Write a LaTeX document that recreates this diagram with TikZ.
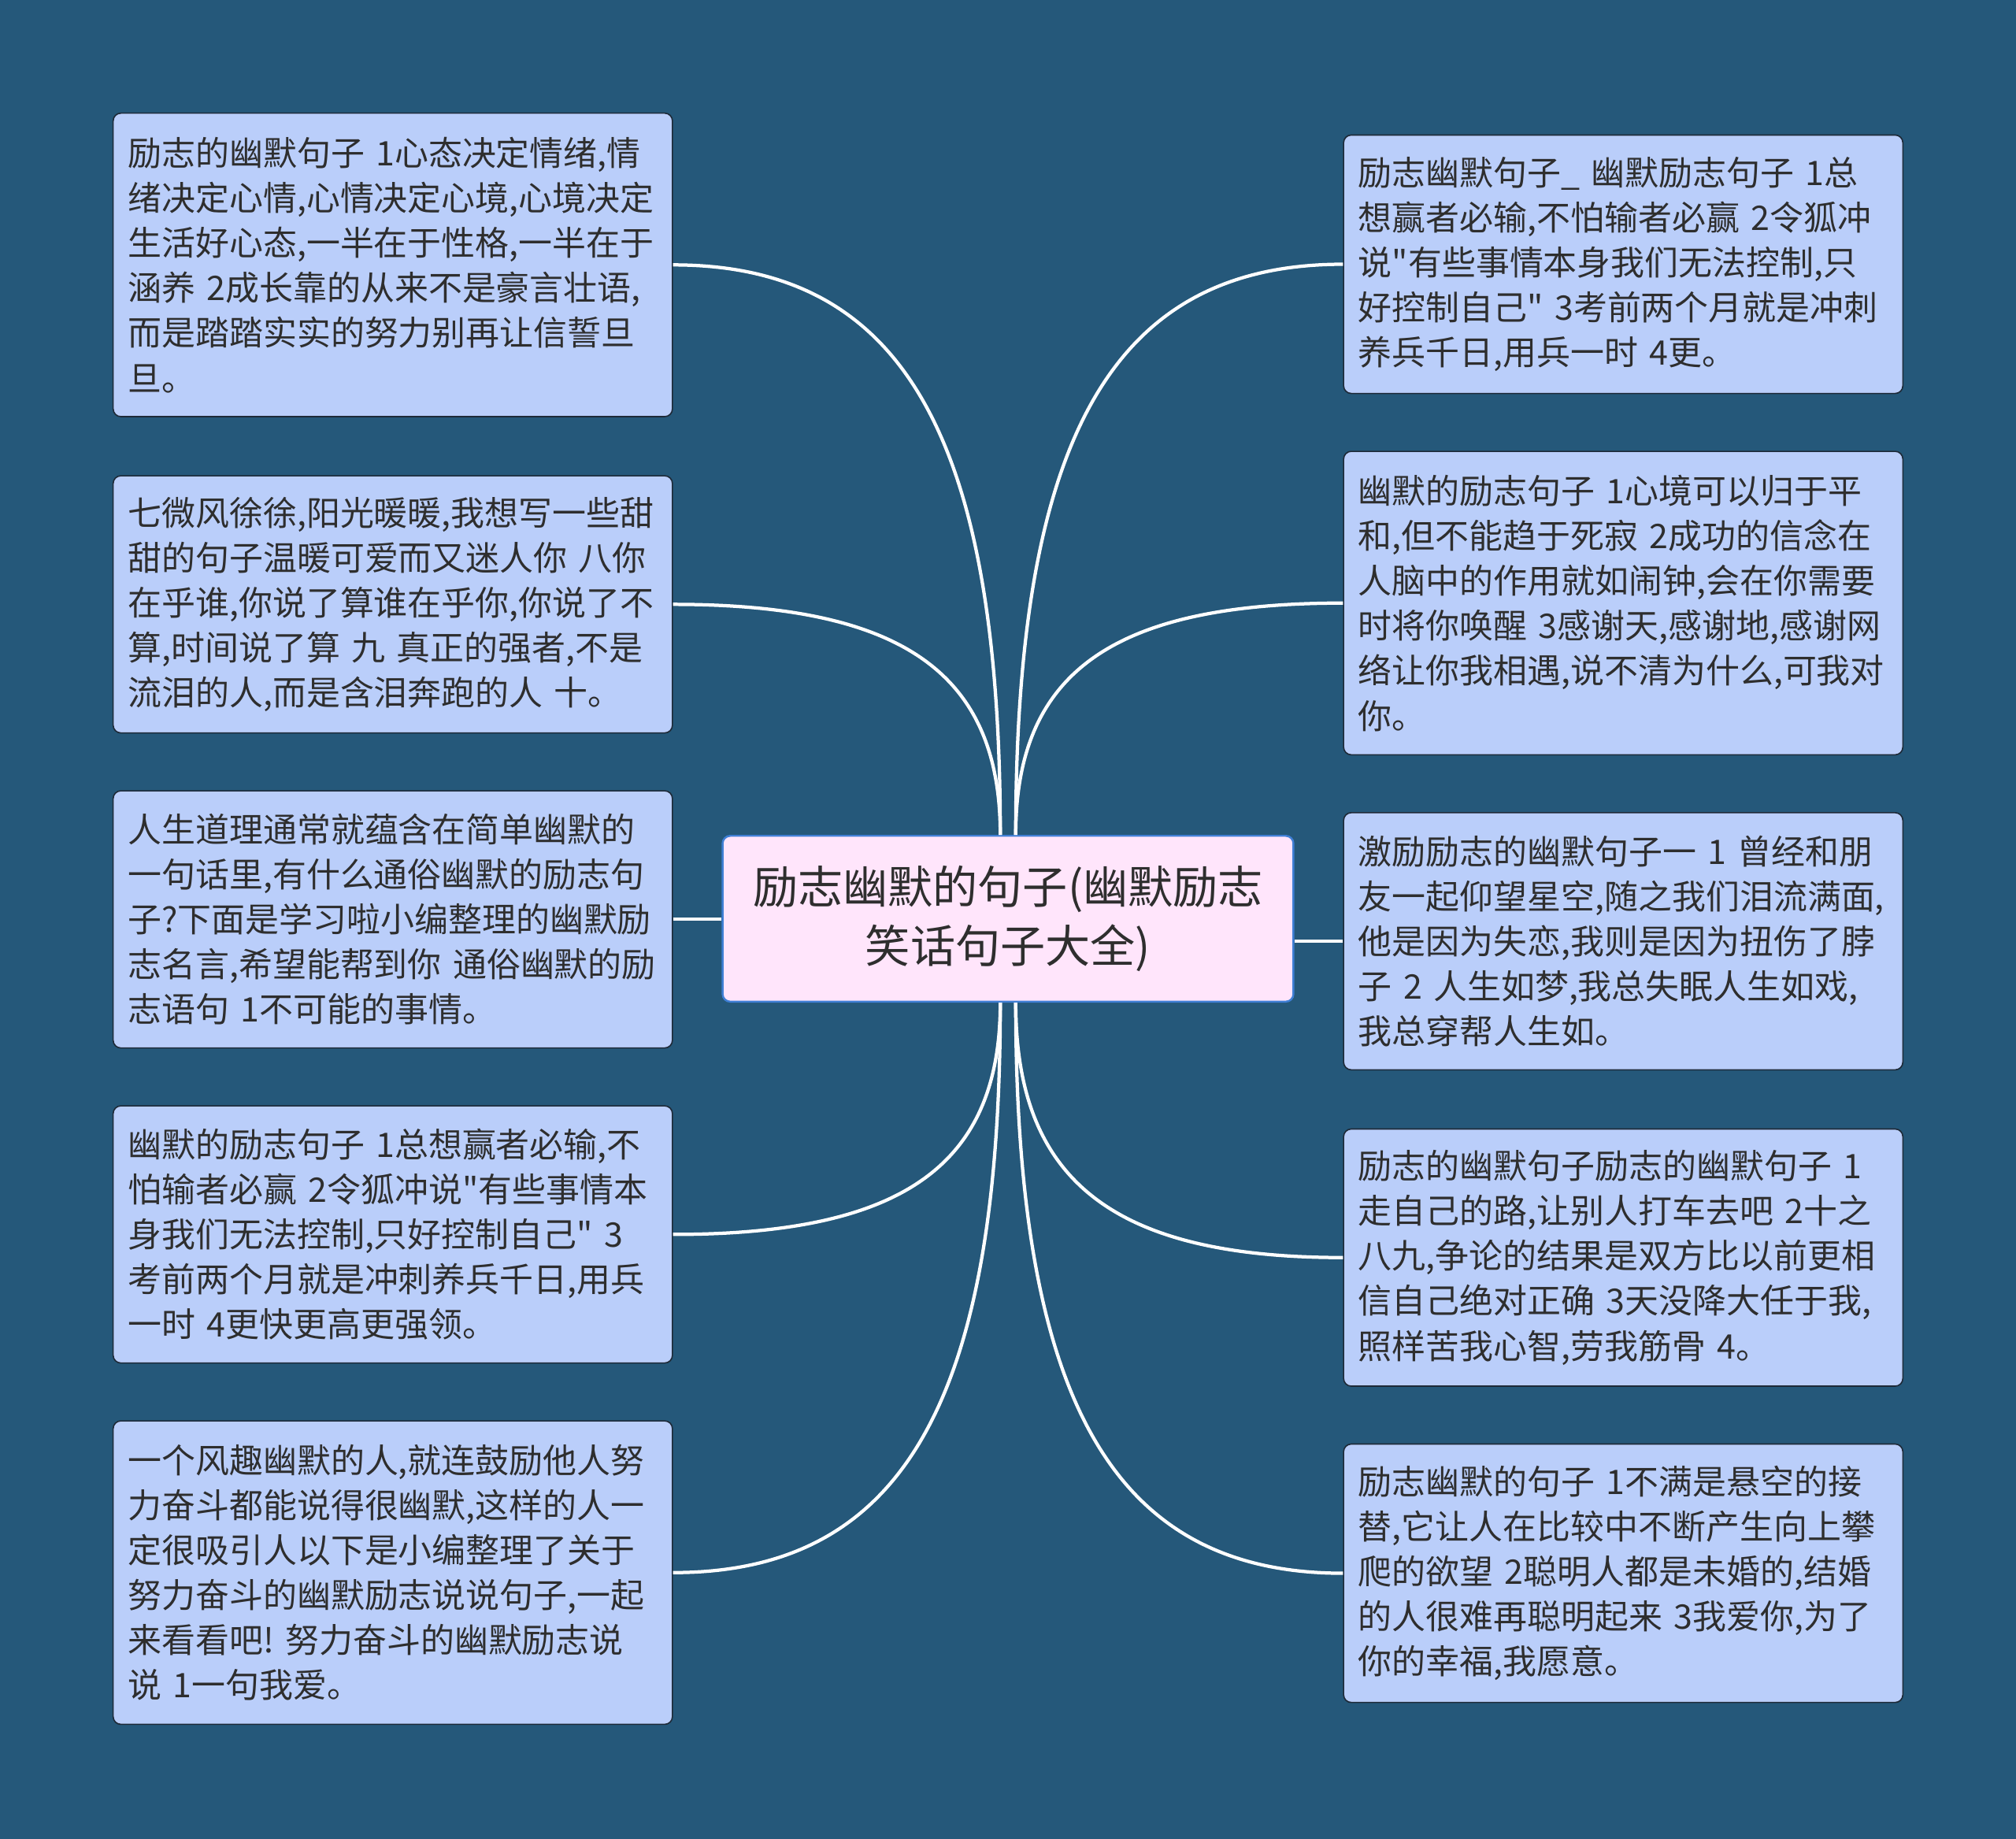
\documentclass[tikz,border=0pt]{standalone}
\usepackage{fontspec}
\setmainfont{Noto Sans CJK SC}
\newfontfamily\qfont{Noto Sans CJK SC}
\newcommand\dq{{\qfont"}}
\definecolor{bg}{HTML}{25587A}
\definecolor{leaffill}{HTML}{BACEFA}
\definecolor{leafborder}{HTML}{1E2A38}
\definecolor{rootfill}{HTML}{FFE5FB}
\definecolor{rootborder}{HTML}{3F7FD5}
\definecolor{txt}{HTML}{2E2E2E}
\tikzset{
  leaf/.style={draw=leafborder, line width=1pt, fill=leaffill, rounded corners=6pt,
    text width=412pt, inner xsep=11.5pt, inner ysep=0pt, align=left,
    font=\fontsize{26.3}{35}\selectfont, text=txt},
  root/.style={draw=rootborder, line width=1.5pt, fill=rootfill, rounded corners=6pt,
    minimum width=444pt, minimum height=129pt, align=center, inner sep=0pt,
    font=\fontsize{35}{46}\selectfont, text=txt},
  conn/.style={draw=white, line width=2.6pt}
}
\begin{document}
\begin{tikzpicture}[x=1pt,y=-1pt]
\fill[bg] (0,0) rectangle (1568,1430);

\node[root] (c) at (784,714.5) {励志幽默的句子(幽默励志\\笑话句子大全)};

\node[leaf, minimum height=236pt] (l1) at (305.5,206) {励志的幽默句子~1心态决定情绪,情\\绪决定心情,心情决定心境,心境决定\\生活好心态,一半在于性格,一半在于\\涵养~2成长靠的从来不是豪言壮语,\\而是踏踏实实的努力别再让信誓旦\\旦。};
\node[leaf, minimum height=200pt] (l2) at (305.5,470) {七微风徐徐,阳光暖暖,我想写一些甜\\甜的句子温暖可爱而又迷人你~八你\\在乎谁,你说了算谁在乎你,你说了不\\算,时间说了算~九~真正的强者,不是\\流泪的人,而是含泪奔跑的人~十。};
\node[leaf, minimum height=200pt] (l3) at (305.5,715) {人生道理通常就蕴含在简单幽默的\\一句话里,有什么通俗幽默的励志句\\子?下面是学习啦小编整理的幽默励\\志名言,希望能帮到你~通俗幽默的励\\志语句~1不可能的事情。};
\node[leaf, minimum height=200pt] (l4) at (305.5,960) {幽默的励志句子~1总想赢者必输,不\\怕输者必赢~2令狐冲说\dq 有些事情本\\身我们无法控制,只好控制自己\dq~3\\考前两个月就是冲刺养兵千日,用兵\\一时~4更快更高更强领。};
\node[leaf, minimum height=236pt] (l5) at (305.5,1223) {一个风趣幽默的人,就连鼓励他人努\\力奋斗都能说得很幽默,这样的人一\\定很吸引人以下是小编整理了关于\\努力奋斗的幽默励志说说句子,一起\\来看看吧!~努力奋斗的幽默励志说\\说~1一句我爱。};

\node[leaf, minimum height=201pt] (r1) at (1262.5,205.5) {励志幽默句子\_~幽默励志句子~1总\\想赢者必输,不怕输者必赢~2令狐冲\\说\dq 有些事情本身我们无法控制,只\\好控制自己\dq~3考前两个月就是冲刺\\养兵千日,用兵一时~4更。};
\node[leaf, minimum height=236pt] (r2) at (1262.5,469) {幽默的励志句子~1心境可以归于平\\和,但不能趋于死寂~2成功的信念在\\人脑中的作用就如闹钟,会在你需要\\时将你唤醒~3感谢天,感谢地,感谢网\\络让你我相遇,说不清为什么,可我对\\你。};
\node[leaf, minimum height=200pt] (r3) at (1262.5,732) {激励励志的幽默句子一~1~曾经和朋\\友一起仰望星空,随之我们泪流满面,\\他是因为失恋,我则是因为扭伤了脖\\子~2~人生如梦,我总失眠人生如戏,\\我总穿帮人生如。};
\node[leaf, minimum height=200pt] (r4) at (1262.5,978) {励志的幽默句子励志的幽默句子~1\\走自己的路,让别人打车去吧~2十之\\八九,争论的结果是双方比以前更相\\信自己绝对正确~3天没降大任于我,\\照样苦我心智,劳我筋骨~4。};
\node[leaf, minimum height=201pt] (r5) at (1262.5,1223.5) {励志幽默的句子~1不满是悬空的接\\替,它让人在比较中不断产生向上攀\\爬的欲望~2聪明人都是未婚的,结婚\\的人很难再聪明起来~3我爱你,为了\\你的幸福,我愿意。};

\draw[conn] (l1.east) .. controls +(178,0) and +(0,-311) .. ([xshift=-6pt]c.north);
\draw[conn] (l2.east) .. controls +(178,0) and +(0,-126) .. ([xshift=-6pt]c.north);
\draw[conn] (l3.east) -- (l3.east -| c.west);
\draw[conn] (l4.east) .. controls +(178,0) and +(0,127) .. ([xshift=-6pt]c.south);
\draw[conn] (l5.east) .. controls +(178,0) and +(0,311) .. ([xshift=-6pt]c.south);

\draw[conn] (r1.west) .. controls +(-178,0) and +(0,-311) .. ([xshift=6pt]c.north);
\draw[conn] (r2.west) .. controls +(-178,0) and +(0,-127) .. ([xshift=6pt]c.north);
\draw[conn] (r3.west) -- (r3.west -| c.east);
\draw[conn] (r4.west) .. controls +(-178,0) and +(0,139) .. ([xshift=6pt]c.south);
\draw[conn] (r5.west) .. controls +(-178,0) and +(0,311) .. ([xshift=6pt]c.south);
\end{tikzpicture}
\end{document}
